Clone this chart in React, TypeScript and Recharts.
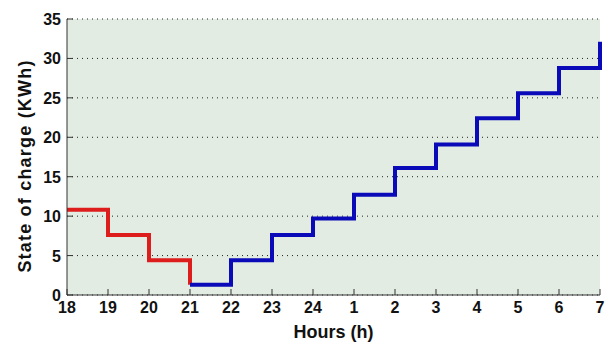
import React from "react";
import { LineChart, Line, XAxis, YAxis, CartesianGrid } from "recharts";

const hourLabels = ["18", "19", "20", "21", "22", "23", "24", "1", "2", "3", "4", "5", "6", "7"];
const dischargeValues = [10.8, 7.6, 4.4, 1.3];
const chargeValues = [1.3, 4.4, 7.6, 9.7, 12.7, 16.1, 19.1, 22.4, 25.6, 28.8, 32.1];
const yTicks = [0, 5, 10, 15, 20, 25, 30, 35];

const chargeStart = dischargeValues.length - 1;
const data = hourLabels.map((_, i) => ({
  i,
  red: i < dischargeValues.length ? dischargeValues[i] : undefined,
  blue: i >= chargeStart ? chargeValues[i - chargeStart] : undefined,
}));

const FONT = "'Liberation Sans', Arial, sans-serif";
const AX = "#333";

const BottomTick = (p: any) => (
  <g>
    <line x1={p.x} x2={p.x} y1={p.y} y2={p.y - 6} stroke={AX} />
    <text x={p.x} y={p.y + 18} textAnchor="middle" fontFamily={FONT} fontWeight="bold" fontSize={16} fill="#111">
      {hourLabels[p.payload.value]}
    </text>
  </g>
);
const TopTick = (p: any) => (
  <line x1={p.x} x2={p.x} y1={p.y} y2={p.y + 6} stroke={AX} />
);
const LeftTick = (p: any) => (
  <g>
    <line x1={p.x} x2={p.x + 6} y1={p.y} y2={p.y} stroke={AX} />
    <text x={p.x - 6} y={p.y + 6} textAnchor="end" fontFamily={FONT} fontWeight="bold" fontSize={16} fill="#111">
      {p.payload.value}
    </text>
  </g>
);
const RightTick = (p: any) => (
  <line x1={p.x} x2={p.x - 6} y1={p.y} y2={p.y} stroke={AX} />
);

const YLabel = (props: any) => {
  const vb = props.viewBox || { x: 0, y: 19, width: 67, height: 276 };
  const cx = vb.x + 25;
  const cy = vb.y + vb.height / 2 + 9;
  return (
    <text
      transform={`translate(${cx},${cy}) rotate(-90)`}
      textAnchor="middle"
      dominantBaseline="central"
      fontFamily={FONT}
      fontWeight="bold"
      fontSize={18}
      letterSpacing={1.2}
      fill="#111"
    >
      State of charge (KWh)
    </text>
  );
};

export default function App() {
  return (
    <div style={{ position: "absolute", left: 0, top: 0, width: 612, height: 342, background: "#fff" }}>
      <LineChart width={612} height={342} data={data} margin={{ top: 19, right: 12, left: 0, bottom: 0 }}>
        <CartesianGrid
          vertical={false}
          horizontal={true}
          stroke="#222"
          strokeDasharray="1 4"
          fill="#e3ece3"
          fillOpacity={1}
        />
        <XAxis
          dataKey="i"
          type="number"
          domain={[0, 13]}
          ticks={hourLabels.map((_, i) => i)}
          interval={0}
          tickSize={0}
          tickMargin={0}
          tickLine={false}
          axisLine={{ stroke: AX }}
          tick={<BottomTick />}
          height={47}
          label={{ value: "Hours (h)", position: "insideBottom", offset: 4, fontFamily: FONT, fontWeight: "bold", fontSize: 18, fill: "#111" }}
        />
        <XAxis
          xAxisId="top"
          orientation="top"
          dataKey="i"
          type="number"
          domain={[0, 13]}
          ticks={hourLabels.map((_, i) => i)}
          interval={0}
          tickSize={0}
          tickMargin={0}
          tickLine={false}
          axisLine={{ stroke: AX }}
          tick={<TopTick />}
          height={0}
        />
        <YAxis
          type="number"
          domain={[0, 35]}
          ticks={yTicks}
          interval={0}
          tickSize={0}
          tickMargin={0}
          tickLine={false}
          axisLine={{ stroke: AX }}
          tick={<LeftTick />}
          width={67}
          label={{ content: <YLabel /> }}
        />
        <YAxis
          yAxisId="right"
          orientation="right"
          type="number"
          domain={[0, 35]}
          ticks={yTicks}
          interval={0}
          tickSize={0}
          tickMargin={0}
          tickLine={false}
          axisLine={{ stroke: AX }}
          tick={<RightTick />}
          width={0}
        />
        <Line type="stepAfter" dataKey="red" stroke="#dd1c1c" strokeWidth={4} dot={false} isAnimationActive={false} connectNulls={false} />
        <Line type="stepAfter" dataKey="blue" stroke="#0a0ab8" strokeWidth={4} dot={false} isAnimationActive={false} connectNulls={false} />
      </LineChart>
    </div>
  );
}
